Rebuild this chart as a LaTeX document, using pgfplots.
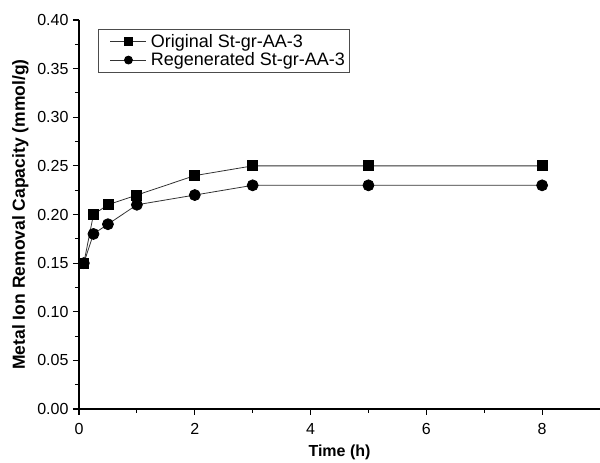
\documentclass[border=0pt]{standalone}
\usepackage{pgfplots}
\pgfplotsset{compat=1.18}
\usepackage{fontspec}
\setmainfont{Liberation Sans}
\begin{document}
\begin{tikzpicture}
\path[use as bounding box] (-79pt,-54pt) rectangle (521pt,389pt+20pt);
\begin{axis}[
  at={(0,0)}, anchor=south west,
  scale only axis, width=521pt, height=389pt,
  xmin=0, xmax=9, ymin=0, ymax=0.40,
  axis x line*=bottom, axis y line*=left,
  axis line style={line width=1.3pt},
  xtick={0,2,4,6,8}, minor xtick={1,3,5,7},
  ytick={0,0.05,...,0.40}, minor ytick={0.025,0.075,...,0.375},
  tick align=outside,
  major tick length=6pt, minor tick length=4pt,
  every tick/.style={line width=1.1pt, black},
  /pgf/number format/assume math mode=true,
  ticklabel style={font=\fontsize{16}{19}\selectfont},
  xticklabel style={yshift=-5pt},
  yticklabel style={xshift=-1pt, /pgf/number format/.cd, fixed, fixed zerofill, precision=2},
  xlabel={\textbf{Time (h)}},
  ylabel={\textbf{Metal Ion Removal Capacity (mmol/g)}},
  xlabel style={font=\fontsize{16}{19}\selectfont, yshift=-3pt},
  ylabel style={font=\fontsize{17.5}{20}\selectfont, yshift=2pt},
  legend style={at={(0.036,0.977)}, anchor=north west, draw=black!70, line width=0.6pt,
    font=\fontsize{18}{21}\selectfont, row sep=0pt, inner xsep=2pt, inner ysep=3pt},
  legend cell align=left,
  legend image code/.code={\path (0pt,0pt) (48pt,0pt);
     \draw[mark repeat=2, mark phase=2, mark size=4pt]
     plot coordinates {(10pt,0pt) (28pt,0pt) (46pt,0pt)};},
  clip=false,
]
\addplot[black!80, line width=0.8pt, mark=square*, mark size=5pt, mark options={fill=black, draw=black, solid}]
  coordinates {(0.083,0.15) (0.25,0.20) (0.5,0.21) (1,0.22) (2,0.24) (3,0.25) (5,0.25) (8,0.25)};
\addlegendentry{Original St-gr-AA-3}
\addplot[black!80, line width=0.8pt, mark=*, mark size=5.5pt, mark options={fill=black, draw=black, solid}]
  coordinates {(0.083,0.15) (0.25,0.18) (0.5,0.19) (1,0.21) (2,0.22) (3,0.23) (5,0.23) (8,0.23)};
\addlegendentry{Regenerated St-gr-AA-3}
\end{axis}
\end{tikzpicture}
\end{document}
